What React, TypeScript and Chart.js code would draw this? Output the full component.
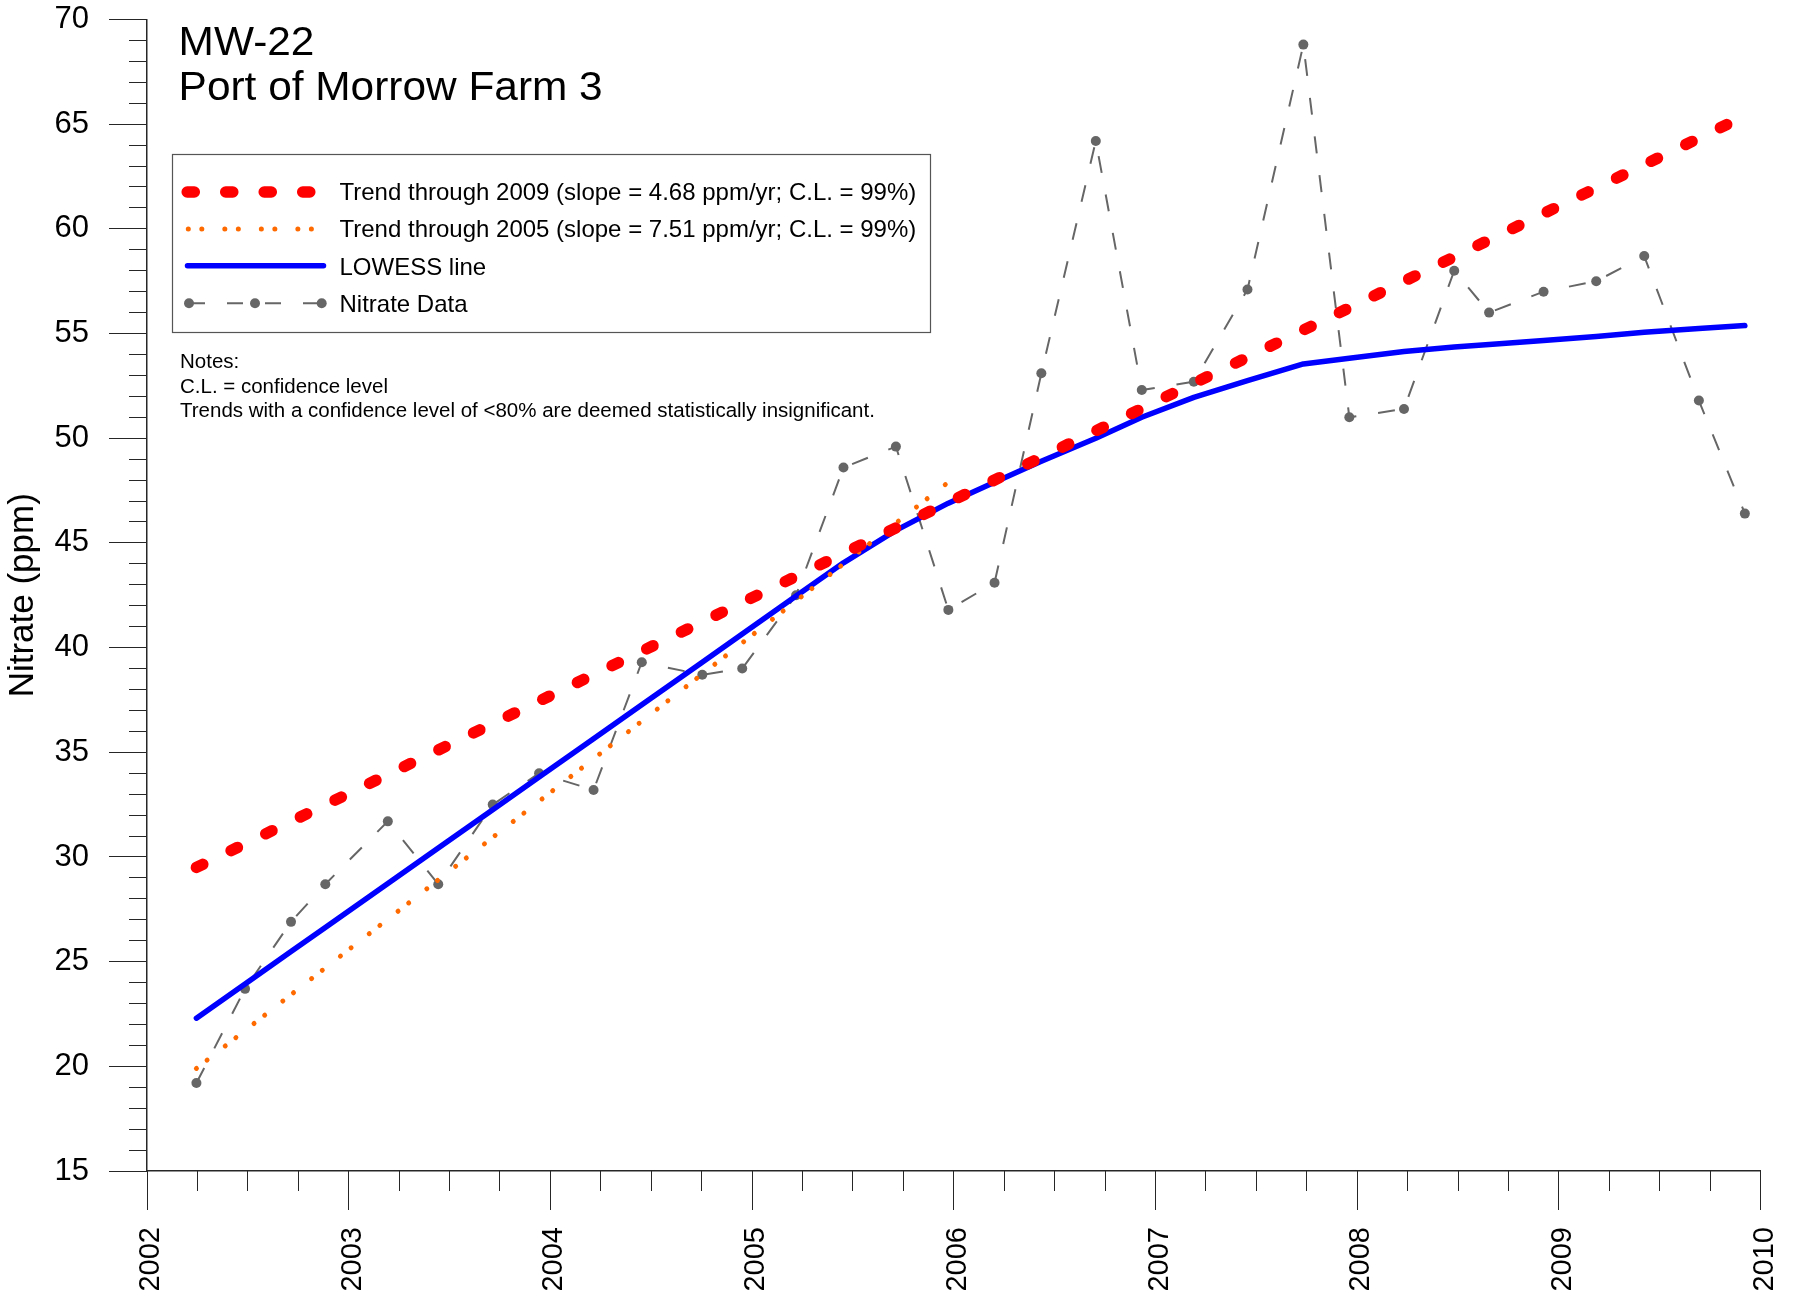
import React, { useEffect, useRef } from "react";
import { Chart, registerables } from "chart.js";

Chart.register(...registerables);

const FONT = "'Liberation Sans', Arial, Helvetica, sans-serif";
const AXIS = "#262626";

// ---- text ----
const titleLines = ["MW-22", "Port of Morrow Farm 3"];
const noteLines = [
  "Notes:",
  "C.L. = confidence level",
  "Trends with a confidence level of <80% are deemed statistically insignificant.",
];
const seriesLabels = [
  "Trend through 2009 (slope = 4.68 ppm/yr; C.L. = 99%)",
  "Trend through 2005 (slope = 7.51 ppm/yr; C.L. = 99%)",
  "LOWESS line",
  "Nitrate Data",
];
const yAxisTitle = "Nitrate (ppm)";

// ---- axes ----
const xRange = [2002, 2010];
const yRange = [15, 70];

// ---- data (decimal years, ppm) ----
const sampleYears = [
  2002.245, 2002.486, 2002.714, 2002.884, 2003.194, 2003.444, 2003.714, 2003.944,
  2004.214, 2004.453, 2004.753, 2004.951, 2005.218, 2005.453, 2005.713, 2005.973,
  2006.202, 2006.434, 2006.704, 2006.932, 2007.19, 2007.456, 2007.733, 2007.961,
  2008.232, 2008.481, 2008.654, 2008.924, 2009.185, 2009.423, 2009.694, 2009.922,
];
const nitrateValues = [
  19.2, 23.7, 26.9, 28.7, 31.7, 28.7, 32.5, 34.0,
  33.2, 39.3, 38.7, 39.0, 42.5, 48.6, 49.6, 41.8,
  43.1, 53.1, 64.2, 52.3, 52.7, 57.1, 68.8, 51.0,
  51.4, 58.0, 56.0, 57.0, 57.5, 58.7, 51.8, 46.4,
];
const lowessValues = [
  22.3, 23.93, 25.48, 26.63, 28.73, 30.43, 32.26, 33.82,
  35.65, 37.27, 39.3, 40.65, 42.46, 44.05, 45.6, 46.9,
  47.9, 48.9, 50.0, 51.0, 51.95, 52.75, 53.55, 53.82,
  54.14, 54.36, 54.48, 54.67, 54.86, 55.06, 55.24, 55.38,
];
const trend2009Years = [2002.245, 2009.922];
const trend2009Values = [29.5, 65.4];
const trend2005Years = [2002.245, 2005.973];
const trend2005Values = [19.9, 47.9];

const toPoints = (xs: number[], ys: number[]) => xs.map((x, i) => ({ x, y: ys[i] }));

const RED = "#FF0000";
const ORANGE = "#FF6A00";
const BLUE = "#0000FF";
const GRAY = "#666666";

const RED_DASH = [7.1, 31.4];
const ORANGE_DASH = [0.01, 13.5, 0.01, 23];
const GRAY_DASH = [17, 22];

const decorPlugin = {
  id: "decor",
  afterDraw(chart: any) {
    const { ctx, chartArea } = chart;
    const xs = chart.scales.x;
    const ys = chart.scales.y;
    ctx.save();

    // tick marks
    ctx.strokeStyle = AXIS;
    ctx.lineWidth = 1;
    ctx.setLineDash([]);
    const ax = chartArea.left;
    for (let v = yRange[0]; v <= yRange[1]; v++) {
      const len = v % 5 === 0 ? 38 : 18;
      const y = Math.round(ys.getPixelForValue(v) - 0.5) + 0.5;
      ctx.beginPath();
      ctx.moveTo(ax - len, y);
      ctx.lineTo(ax, y);
      ctx.stroke();
    }
    const ay = chartArea.bottom;
    for (let q = 0; q <= (xRange[1] - xRange[0]) * 4; q++) {
      const t = xRange[0] + q / 4;
      const len = q % 4 === 0 ? 39 : 20;
      const x = Math.round(xs.getPixelForValue(t) - 0.5) + 0.5;
      ctx.beginPath();
      ctx.moveTo(x, ay);
      ctx.lineTo(x, ay + len);
      ctx.stroke();
    }

    // title
    ctx.fillStyle = "#000";
    ctx.textBaseline = "alphabetic";
    ctx.textAlign = "left";
    ctx.font = `40px ${FONT}`;
    const titleBase = [55, 100];
    titleLines.forEach((t, i) => {
      ctx.save();
      ctx.translate(178.6, titleBase[i]);
      ctx.scale(1.06, 1);
      ctx.fillText(t, 0, 0);
      ctx.restore();
    });

    // legend box
    ctx.fillStyle = "#fff";
    ctx.fillRect(172, 154, 759, 179);
    ctx.strokeStyle = "#555";
    ctx.lineWidth = 1.2;
    ctx.strokeRect(172.5, 154.5, 758, 178);

    const rowY = [192, 229, 265.7, 303.3];
    const textBase = [200, 237.3, 275, 311.7];

    // red
    ctx.lineCap = "round";
    ctx.strokeStyle = RED;
    ctx.lineWidth = 11.5;
    ctx.setLineDash(RED_DASH);
    ctx.beginPath();
    ctx.moveTo(187.2, rowY[0]);
    ctx.lineTo(312, rowY[0]);
    ctx.stroke();
    // orange
    ctx.strokeStyle = ORANGE;
    ctx.lineWidth = 5;
    ctx.setLineDash(ORANGE_DASH);
    ctx.beginPath();
    ctx.moveTo(188.3, rowY[1]);
    ctx.lineTo(312, rowY[1]);
    ctx.stroke();
    // blue
    ctx.strokeStyle = BLUE;
    ctx.lineWidth = 5.5;
    ctx.setLineDash([]);
    ctx.beginPath();
    ctx.moveTo(187.5, rowY[2]);
    ctx.lineTo(323.5, rowY[2]);
    ctx.stroke();
    // gray
    ctx.lineCap = "butt";
    ctx.strokeStyle = GRAY;
    ctx.lineWidth = 2;
    ctx.setLineDash([16, 22]);
    ctx.beginPath();
    ctx.moveTo(189, rowY[3]);
    ctx.lineTo(321.7, rowY[3]);
    ctx.stroke();
    ctx.setLineDash([]);
    ctx.fillStyle = GRAY;
    [189, 255, 321.7].forEach((x) => {
      ctx.beginPath();
      ctx.arc(x, rowY[3], 5, 0, Math.PI * 2);
      ctx.fill();
    });

    ctx.fillStyle = "#000";
    ctx.font = `24px ${FONT}`;
    seriesLabels.forEach((t, i) => ctx.fillText(t, 339.5, textBase[i]));

    // notes
    ctx.font = `20.5px ${FONT}`;
    const noteBase = [368.3, 392.7, 417];
    noteLines.forEach((t, i) => ctx.fillText(t, 180, noteBase[i]));

    ctx.restore();
  },
};

export default function App() {
  const ref = useRef<HTMLCanvasElement>(null);

  useEffect(() => {
    const canvas = ref.current;
    if (!canvas) return;
    const chart = new Chart(canvas, {
      type: "line",
      data: {
        datasets: [
          {
            label: seriesLabels[0],
            data: toPoints(trend2009Years, trend2009Values),
            borderColor: RED,
            borderWidth: 11.5,
            borderDash: RED_DASH,
            borderCapStyle: "round",
            pointRadius: 0,
            fill: false,
          },
          {
            label: seriesLabels[1],
            data: toPoints(trend2005Years, trend2005Values),
            borderColor: ORANGE,
            borderWidth: 5,
            borderDash: ORANGE_DASH,
            borderCapStyle: "round",
            pointRadius: 0,
            fill: false,
          },
          {
            label: seriesLabels[2],
            data: toPoints(sampleYears, lowessValues),
            borderColor: BLUE,
            borderWidth: 5.5,
            borderCapStyle: "round",
            borderJoinStyle: "round",
            pointRadius: 0,
            fill: false,
          },
          {
            label: seriesLabels[3],
            data: toPoints(sampleYears, nitrateValues),
            borderColor: GRAY,
            borderWidth: 2,
            borderDash: GRAY_DASH,
            pointRadius: 5,
            pointBackgroundColor: GRAY,
            pointBorderWidth: 0,
            pointBorderColor: GRAY,
            fill: false,
          },
        ],
      } as any,
      options: {
        animation: false,
        responsive: false,
        maintainAspectRatio: false,
        devicePixelRatio: 1,
        layout: { padding: { left: 0, top: 19.5, right: 35.4, bottom: 0 } },
        plugins: {
          legend: { display: false },
          tooltip: { enabled: false },
          title: { display: false },
        },
        scales: {
          x: {
            type: "linear",
            min: xRange[0],
            max: xRange[1],
            grid: { display: false, drawTicks: false },
            border: { display: true, color: AXIS, width: 1.5 },
            ticks: {
              stepSize: 1,
              autoSkip: false,
              minRotation: 90,
              maxRotation: 90,
              padding: 56,
              labelOffset: 4,
              color: "#000",
              font: { family: FONT, size: 29 },
              callback: (v: any) => String(v),
            },
            afterFit: (s: any) => {
              s.height = 131;
              s.paddingLeft = 0;
              s.paddingRight = 0;
            },
          },
          y: {
            type: "linear",
            min: yRange[0],
            max: yRange[1],
            grid: { display: false, drawTicks: false },
            border: { display: true, color: AXIS, width: 1.5 },
            ticks: {
              stepSize: 5,
              autoSkip: false,
              padding: 58,
              color: "#000",
              font: { family: FONT, size: 31 },
              callback: (v: any) => String(v),
            },
            title: {
              display: true,
              text: yAxisTitle,
              color: "#000",
              font: { family: FONT, size: 35 },
              padding: { top: 2, bottom: 0 },
            },
            afterFit: (s: any) => {
              s.width = 147;
              s.paddingTop = 0;
              s.paddingBottom = 0;
            },
          },
        },
      } as any,
      plugins: [decorPlugin],
    });
    return () => chart.destroy();
  }, []);

  return (
    <div
      style={{
        position: "absolute",
        left: 0,
        top: 0,
        width: 1796,
        height: 1302,
        background: "#fff",
        overflow: "hidden",
      }}
    >
      <canvas
        ref={ref}
        width={1796}
        height={1302}
        style={{ width: 1796, height: 1302, display: "block" }}
      />
    </div>
  );
}
